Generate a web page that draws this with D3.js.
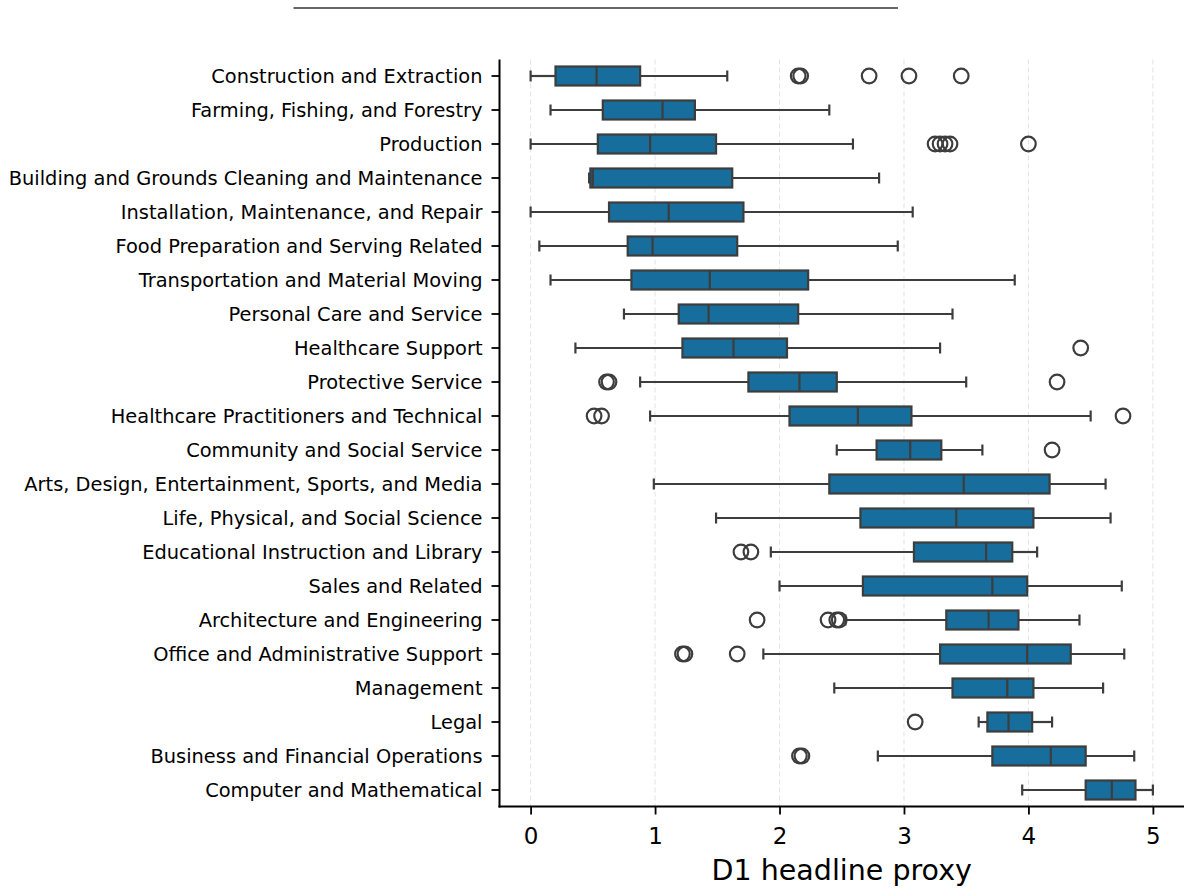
<!DOCTYPE html>
<html>
<head>
<meta charset="utf-8">
<script src="https://cdn.jsdelivr.net/npm/d3@7"></script>
<style>
  html, body { margin: 0; padding: 0; background: #fff; }
  svg { display: block; font-family: "DejaVu Sans", sans-serif; }
</style>
</head>
<body>
<svg id="chart" width="1184" height="888"></svg>
<script>
// Occupation groups, top to bottom
const categories = [
  "Construction and Extraction",
  "Farming, Fishing, and Forestry",
  "Production",
  "Building and Grounds Cleaning and Maintenance",
  "Installation, Maintenance, and Repair",
  "Food Preparation and Serving Related",
  "Transportation and Material Moving",
  "Personal Care and Service",
  "Healthcare Support",
  "Protective Service",
  "Healthcare Practitioners and Technical",
  "Community and Social Service",
  "Arts, Design, Entertainment, Sports, and Media",
  "Life, Physical, and Social Science",
  "Educational Instruction and Library",
  "Sales and Related",
  "Architecture and Engineering",
  "Office and Administrative Support",
  "Management",
  "Legal",
  "Business and Financial Operations",
  "Computer and Mathematical"
];

// Box-plot summary statistics per group
const whiskerLow  = [0.00, 0.16, 0.00, 0.47, 0.00, 0.07, 0.16, 0.75, 0.36, 0.88, 0.96, 2.46, 0.99, 1.49, 1.93, 2.00, 2.53, 1.87, 2.44, 3.60, 2.79, 3.95];
const q1          = [0.20, 0.58, 0.54, 0.48, 0.63, 0.78, 0.81, 1.19, 1.22, 1.75, 2.08, 2.78, 2.40, 2.65, 3.08, 2.67, 3.34, 3.29, 3.39, 3.67, 3.71, 4.46];
const median      = [0.53, 1.06, 0.96, 0.50, 1.11, 0.98, 1.44, 1.43, 1.63, 2.16, 2.63, 3.05, 3.48, 3.42, 3.66, 3.71, 3.68, 3.99, 3.83, 3.84, 4.18, 4.67];
const q3          = [0.88, 1.32, 1.49, 1.62, 1.71, 1.66, 2.23, 2.15, 2.06, 2.46, 3.06, 3.30, 4.17, 4.04, 3.87, 3.99, 3.92, 4.34, 4.04, 4.03, 4.46, 4.86];
const whiskerHigh = [1.58, 2.40, 2.59, 2.80, 3.07, 2.95, 3.89, 3.39, 3.29, 3.50, 4.50, 3.63, 4.62, 4.66, 4.07, 4.75, 4.41, 4.77, 4.60, 4.19, 4.85, 5.00];

// Points beyond the whiskers
const outliers = [
  [2.15, 2.17, 2.72, 3.04, 3.46],
  [],
  [3.25, 3.29, 3.33, 3.37, 4.00],
  [],
  [],
  [],
  [],
  [],
  [4.42],
  [0.61, 0.63, 4.23],
  [0.51, 0.57, 4.76],
  [4.19],
  [],
  [],
  [1.69, 1.77],
  [],
  [1.82, 2.39, 2.46, 2.48],
  [1.22, 1.24, 1.66],
  [],
  [3.09],
  [2.16, 2.18],
  []
];

const xTicks = [0, 1, 2, 3, 4, 5];
const xLabel = "D1 headline proxy";

(function draw() {
  const svg = d3.select("#chart");
  const plotLeft = 499.5, plotRight = 1184, plotTop = 59.5, plotBottom = 806.5;

  const x = d3.scaleLinear().domain([-0.25, 5.25]).range([plotLeft, plotRight]);
  const y = d3.scaleBand().domain(categories).range([plotTop, plotBottom]).padding(0);
  const rowY = c => Math.round(y(c) + y.bandwidth() / 2);

  const boxFill = "#176d9c";
  const lineCol = "#3d3d3d";
  const lw = 2.2;
  const boxH = 19;
  const capH = 11;

  // thin rule across the top
  svg.append("line")
    .attr("x1", 293.5).attr("x2", 898).attr("y1", 8).attr("y2", 8)
    .attr("stroke", "#333").attr("stroke-width", 1.6);

  // vertical dashed gridlines
  svg.append("g").selectAll("line").data(xTicks).join("line")
    .attr("x1", d => x(d)).attr("x2", d => x(d))
    .attr("y1", plotTop).attr("y2", plotBottom)
    .attr("stroke", "#e2e2e2").attr("stroke-width", 1)
    .attr("stroke-dasharray", "5,3");

  const rows = categories.map((c, i) => ({
    c, lo: whiskerLow[i], q1: q1[i], med: median[i], q3: q3[i], hi: whiskerHigh[i], out: outliers[i]
  }));

  const g = svg.append("g").selectAll("g").data(rows).join("g")
    .attr("transform", d => `translate(0,${rowY(d.c)})`);

  // whiskers
  g.append("line").attr("x1", d => x(d.lo)).attr("x2", d => x(d.q1))
    .attr("stroke", lineCol).attr("stroke-width", lw);
  g.append("line").attr("x1", d => x(d.q3)).attr("x2", d => x(d.hi))
    .attr("stroke", lineCol).attr("stroke-width", lw);
  // caps
  g.append("line").attr("x1", d => x(d.lo)).attr("x2", d => x(d.lo))
    .attr("y1", -capH / 2).attr("y2", capH / 2)
    .attr("stroke", lineCol).attr("stroke-width", lw);
  g.append("line").attr("x1", d => x(d.hi)).attr("x2", d => x(d.hi))
    .attr("y1", -capH / 2).attr("y2", capH / 2)
    .attr("stroke", lineCol).attr("stroke-width", lw);
  // box
  g.append("rect")
    .attr("x", d => x(d.q1)).attr("width", d => x(d.q3) - x(d.q1))
    .attr("y", -boxH / 2).attr("height", boxH)
    .attr("fill", boxFill).attr("stroke", lineCol).attr("stroke-width", lw);
  // median
  g.append("line").attr("x1", d => x(d.med)).attr("x2", d => x(d.med))
    .attr("y1", -boxH / 2).attr("y2", boxH / 2)
    .attr("stroke", lineCol).attr("stroke-width", lw);
  // outliers
  g.selectAll("circle").data(d => d.out).join("circle")
    .attr("cx", v => x(v)).attr("cy", 0).attr("r", 7.3)
    .attr("fill", "none").attr("stroke", lineCol).attr("stroke-width", lw);

  // y axis
  const yAxis = svg.append("g").attr("transform", `translate(${plotLeft},0)`)
    .call(d3.axisLeft(y).tickSize(8).tickPadding(9).offset(0));
  yAxis.select(".domain").remove();
  yAxis.selectAll(".tick").attr("transform", d => `translate(0,${rowY(d)})`);
  yAxis.selectAll(".tick line").attr("stroke", "#000").attr("stroke-width", 1.8);
  yAxis.selectAll(".tick text").attr("font-size", "19.4px").attr("fill", "#000")
    .attr("dy", "0.36em").attr("font-family", "DejaVu Sans");
  svg.append("line").attr("x1", plotLeft).attr("x2", plotLeft).attr("y1", plotTop).attr("y2", plotBottom + 1)
    .attr("stroke", "#000").attr("stroke-width", 2);

  // x axis
  const xAxis = svg.append("g").attr("transform", `translate(0,${plotBottom})`)
    .call(d3.axisBottom(x).tickValues(xTicks).tickFormat(d3.format("d")).tickSize(8).tickPadding(13));
  xAxis.select(".domain").remove();
  xAxis.selectAll(".tick line").attr("stroke", "#000").attr("stroke-width", 1.8);
  xAxis.selectAll(".tick text").attr("font-size", "23px").attr("fill", "#000")
    .attr("font-family", "DejaVu Sans");
  svg.append("line").attr("x1", plotLeft - 1).attr("x2", plotRight).attr("y1", plotBottom).attr("y2", plotBottom)
    .attr("stroke", "#000").attr("stroke-width", 2);

  svg.append("text")
    .attr("x", (plotLeft + plotRight) / 2).attr("y", 880)
    .attr("text-anchor", "middle").attr("font-size", "28.5px").attr("fill", "#000")
    .text(xLabel);
})();
</script>
</body>
</html>
